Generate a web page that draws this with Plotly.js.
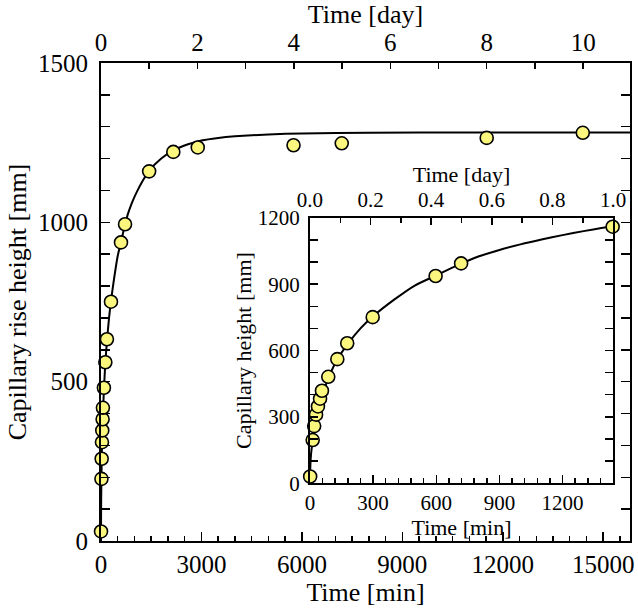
<!DOCTYPE html>
<html>
<head>
<meta charset="utf-8">
<script src="https://cdn.plot.ly/plotly-3.0.1.min.js"></script>
<style>
  html, body { margin: 0; padding: 0; background: #ffffff; }
  #chart { width: 638px; height: 610px; }
</style>
</head>
<body>
<div id="chart"></div>
<script>
// Measured data (time in minutes, capillary rise height in mm)
const timeMin   = [1, 13, 20, 29, 38, 48, 57, 87, 130, 177, 298, 597, 718, 1438, 2160, 2890, 5750, 7190, 11520, 14390];
const heightMm  = [30, 195, 258, 310, 347, 382, 418, 481, 561, 633, 751, 937, 994, 1160, 1221, 1235, 1242, 1248, 1265, 1281];

// Inset data (first day only)
const insetTimeMin  = [1, 13, 20, 29, 38, 48, 57, 87, 130, 177, 298, 597, 718, 1438];
const insetHeightMm = [30, 195, 258, 310, 347, 382, 418, 481, 561, 633, 751, 937, 994, 1160];

// Fitted curve
const fitTimeMin  = [0, 2, 5, 13, 20, 30, 40, 60, 90, 130, 180, 240, 300, 400, 500, 600, 700, 800, 900, 1000, 1100, 1200, 1300, 1440, 1800, 2200, 2600, 3000, 3500, 4000, 5000, 6000, 8000, 11000, 15800];
const fitHeightMm = [0, 80, 130, 195, 250, 305, 345, 405, 480, 560, 630, 700, 755, 830, 895, 940, 985, 1025, 1055, 1080, 1102, 1122, 1140, 1162, 1200, 1228, 1245, 1257, 1265, 1270, 1276, 1279, 1281, 1282, 1282];

const mainXMax = 15800;
const insetXMax = 1440;
const minPerDay = 1440;

const FONT = 'Liberation Serif';
const markerStyle = { size: 13, color: '#fbf67d', line: { color: '#000000', width: 1.6 } };

const traces = [
  { x: fitTimeMin, y: fitHeightMm, xaxis: 'x', yaxis: 'y', mode: 'lines',
    line: { color: '#000000', width: 2, shape: 'spline', smoothing: 0.6 }, hoverinfo: 'skip', showlegend: false },
  { x: timeMin, y: heightMm, xaxis: 'x', yaxis: 'y', mode: 'markers',
    marker: markerStyle, cliponaxis: false, showlegend: false },
  // same data in days, invisible, so the top day axis is drawn
  { x: timeMin.map(t => t / minPerDay), y: heightMm, xaxis: 'x2', yaxis: 'y', mode: 'markers',
    marker: { size: 1, opacity: 0 }, hoverinfo: 'skip', showlegend: false },
  { x: fitTimeMin, y: fitHeightMm, xaxis: 'x3', yaxis: 'y3', mode: 'lines',
    line: { color: '#000000', width: 2, shape: 'spline', smoothing: 0.6 }, hoverinfo: 'skip', showlegend: false },
  { x: insetTimeMin, y: insetHeightMm, xaxis: 'x3', yaxis: 'y3', mode: 'markers',
    marker: markerStyle, cliponaxis: false, showlegend: false },
  { x: insetTimeMin.map(t => t / minPerDay), y: insetHeightMm, xaxis: 'x4', yaxis: 'y3', mode: 'markers',
    marker: { size: 1, opacity: 0 }, hoverinfo: 'skip', showlegend: false }
];

function ax(extra) {
  return Object.assign({
    showgrid: false, zeroline: false, showline: true, linecolor: '#000', linewidth: 2,
    ticks: 'inside', tickcolor: '#000', tickwidth: 1.5, ticklen: 9,
    exponentformat: 'none', separatethousands: false,
    tickfont: { family: FONT, size: 25, color: '#000' }
  }, extra);
}

const layout = {
  width: 638, height: 610,
  margin: { l: 101, r: 8, t: 63, b: 69 },
  paper_bgcolor: '#fff', plot_bgcolor: '#fff',
  font: { family: FONT, color: '#000', size: 24 },
  showlegend: false,
  xaxis: ax({
    domain: [0, 1], anchor: 'y', side: 'bottom', range: [0, mainXMax],
    dtick: 3000, tick0: 0, tickformat: 'd',
    minor: { dtick: 500, ticks: 'inside', ticklen: 5, tickcolor: '#000', tickwidth: 1.5 },
    title: { text: 'Time [min]', font: { family: FONT, size: 26 }, standoff: 4 }
  }),
  xaxis2: ax({
    overlaying: 'x', anchor: 'y', side: 'top', range: [0, mainXMax / minPerDay],
    dtick: 2, tick0: 0, ticklen: 6,
    minor: { dtick: 1, ticks: 'inside', ticklen: 6, tickcolor: '#000', tickwidth: 1.5 },
    title: { text: 'Time [day]', font: { family: FONT, size: 26 }, standoff: 0 }
  }),
  yaxis: ax({
    domain: [0, 1], anchor: 'x', range: [0, 1500], dtick: 500, tick0: 0,
    mirror: 'allticks', ticklabelstandoff: 6,
    minor: { dtick: 100, ticks: 'inside', ticklen: 5, tickcolor: '#000', tickwidth: 1.5 },
    title: { text: 'Capillary rise height [mm]', font: { family: FONT, size: 26 }, standoff: 4 }
  }),
  xaxis3: ax({
    domain: [0.395, 0.968], anchor: 'y3', side: 'bottom', range: [0, insetXMax],
    dtick: 300, tick0: 0, ticklen: 8,
    tickfont: { family: FONT, size: 21, color: '#000' },
    minor: { dtick: 60, ticks: 'inside', ticklen: 5, tickcolor: '#000', tickwidth: 1.5 },
    title: { text: 'Time [min]', font: { family: FONT, size: 22 }, standoff: 0 }
  }),
  xaxis4: ax({
    overlaying: 'x3', anchor: 'y3', side: 'top', range: [0, insetXMax / minPerDay],
    dtick: 0.2, tick0: 0, ticklen: 7, tickformat: '.1f',
    tickfont: { family: FONT, size: 21, color: '#000' },
    minor: { dtick: 0.1, ticks: 'inside', ticklen: 5, tickcolor: '#000', tickwidth: 1.5 },
    title: { text: 'Time [day]', font: { family: FONT, size: 22 }, standoff: 0 }
  }),
  yaxis3: ax({
    domain: [0.121, 0.676], anchor: 'x3', range: [0, 1200], dtick: 300, tick0: 0,
    ticklen: 8, mirror: 'allticks', ticklabelstandoff: 4,
    tickfont: { family: FONT, size: 21, color: '#000' },
    minor: { dtick: 100, ticks: 'inside', ticklen: 5, tickcolor: '#000', tickwidth: 1.5 },
    title: { text: 'Capillary height [mm]', font: { family: FONT, size: 22 }, standoff: 0 }
  })
};

Plotly.newPlot('chart', traces, layout, { staticPlot: true, displayModeBar: false });
</script>
</body>
</html>
